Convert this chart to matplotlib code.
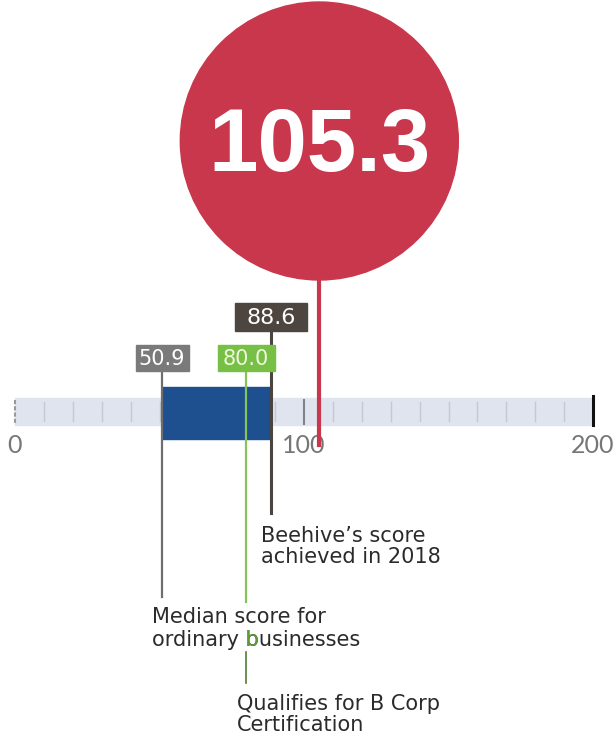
import matplotlib.pyplot as plt
from matplotlib.patches import Rectangle, Ellipse
from matplotlib.transforms import Bbox
from matplotlib.textpath import TextPath
from matplotlib.font_manager import FontProperties

# data
axis_ticks = [0, 100, 200]
median_score = 50.9
bcorp_threshold = 80.0
score_2018 = 88.6
score_now = 105.3

px_per_unit = 2.89
x0 = 15

fig = plt.figure(figsize=(6.16, 7.34), dpi=100)
ax = fig.add_axes([0, 0, 1, 1])
ax.set_xlim(-x0 / px_per_unit, (616 - x0) / px_per_unit)
ax.set_ylim(734, 0)
ax.axis('off')

font = 'DejaVu Sans'
dark_green = '#4f7a35'

def px(w):
    return w / px_per_unit

# track
ax.add_patch(Rectangle((0, 398), 200, 27, color='#dfe4ee', zorder=1))
for v in range(10, 200, 10):
    if v == 100:
        continue
    ax.plot([v, v], [402, 421], color='#c3c8d1', lw=1, zorder=2)
ax.plot([0, 0], [400, 424], color='#9a9a9a', lw=1.5, ls=(0, (2, 1)), zorder=2)
ax.plot([100, 100], [400, 424], color='#7d828c', lw=1.5, zorder=2)
ax.plot([200, 200], [396, 425], color='#111111', lw=2.2, zorder=2)

for t in axis_ticks:
    ax.text(t, 434, str(t), ha='center', va='top', fontsize=18, color='#767676',
            family='Lato')

# range bar
ax.add_patch(Rectangle((median_score, 387), score_2018 - median_score, 52,
                       color='#1e4f8f', zorder=3))

# vertical lines
ax.plot([median_score, median_score], [366, 597], color='#6e6e6e', lw=1.6, zorder=4)
ax.plot([bcorp_threshold, bcorp_threshold], [366, 602], color='#86c35a', lw=1.6, zorder=4)
ax.plot([bcorp_threshold, bcorp_threshold], [652, 683], color=dark_green, lw=1.2, zorder=4)
ax.plot([score_2018, score_2018], [328, 513], color='#4a4540', lw=2.2, zorder=4)

# value boxes
def value_box(v, y_top, w, h, fc, tc, size):
    ax.add_patch(Rectangle((v - px(w) / 2, y_top), px(w), h, color=fc, zorder=6))
    ax.text(v, y_top + h / 2 + 1, f'{v:.1f}', ha='center', va='center',
            family=font, fontsize=size, color=tc, zorder=7)

value_box(median_score, 345, 53, 26, '#7a7a7a', 'white', 15)
value_box(bcorp_threshold, 345, 57, 26, '#78bf45', '#eef8de', 15)
value_box(score_2018, 303, 72, 28, '#4d4640', 'white', 16)

# big circle
red = '#c9374d'
ax.plot([score_now, score_now], [270, 445], color=red, lw=3, zorder=5)
r = 139
ax.add_patch(Ellipse((score_now, 141), 2 * px(r), 2 * r, color=red, zorder=5))
ax.text(score_now, 148, f'{score_now:.1f}', ha='center', va='center',
        fontsize=64, fontweight='bold', color='white',
        family='Liberation Sans', zorder=7)

# annotations, one line at a time on baselines
note_kw = dict(ha='left', va='baseline', fontsize=15, color='#2b2b2b', family=font)
ax.text(px(261 - x0), 542, "Beehive’s score", **note_kw)
ax.text(px(261 - x0), 563, "achieved in 2018", **note_kw)
ax.text(px(152 - x0), 623, "Median score for", **note_kw)
ax.text(px(237 - x0), 710, "Qualifies for B Corp", **note_kw)
ax.text(px(237 - x0), 731, "Certification", **note_kw)
ax.text(px(152 - x0), 646, "ordinary businesses", **note_kw)

# the "b" of businesses is green where the qualifying line crosses it
fp = FontProperties(family=font)
pts_to_px = fig.dpi / 72
b_right = TextPath((0, 0), "ordinary b", size=15, prop=fp).vertices[:, 0].max()
b_path = TextPath((0, 0), "b", size=15, prop=fp).vertices[:, 0]
b_left = b_right - (b_path.max() - b_path.min())
ox, oy = ax.transData.transform((px(152 - x0), 646))
clip = Bbox([[ox + b_left * pts_to_px - 2.5, oy - 8],
             [ox + b_right * pts_to_px + 2, oy + 20]])
green_b = ax.text(px(152 - x0), 646, "ordinary businesses",
                  **{**note_kw, 'color': '#5c9a3a'}, zorder=8)
green_b.set_clip_box(clip)
green_b.set_clip_on(True)

fig.savefig('out.png', dpi=100)
